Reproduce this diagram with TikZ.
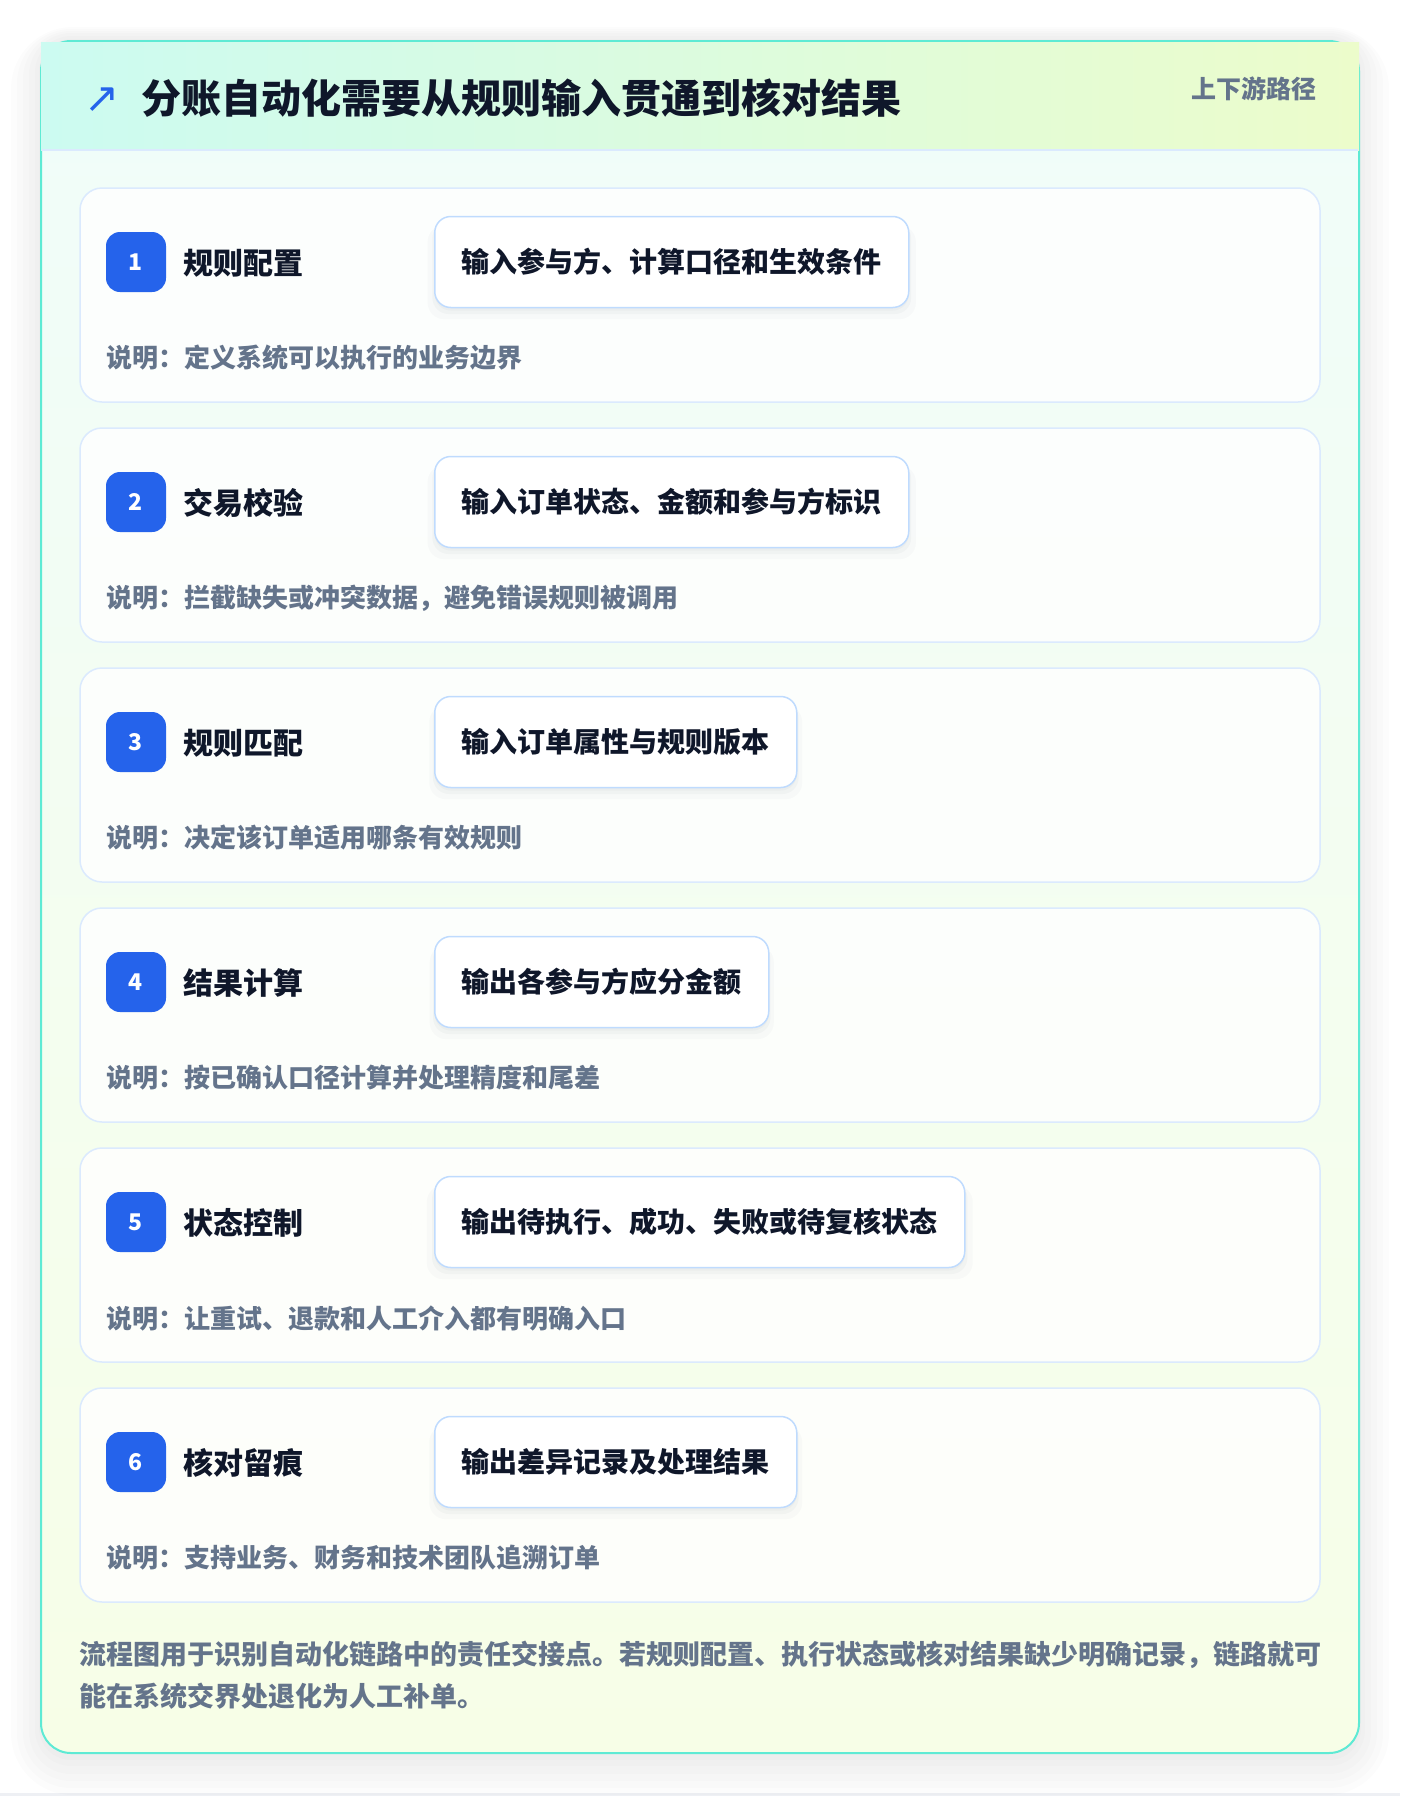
\documentclass[tikz,border=0pt]{standalone}
\usepackage{fontspec}
\setmainfont{Noto Sans CJK SC}
\newfontfamily\symfont{DejaVu Sans}
\usetikzlibrary{shadows}

\definecolor{ink}{HTML}{0F172A}
\definecolor{muted}{HTML}{64748B}
\definecolor{accent}{HTML}{2563EB}
\definecolor{rim}{HTML}{5EEAD4}
\definecolor{headl}{HTML}{CCFBF1}
\definecolor{headr}{HTML}{ECFCCB}
\definecolor{headline}{HTML}{DBEAFE}
\definecolor{bodytop}{HTML}{F0FDFA}
\definecolor{bodybot}{HTML}{F7FEE7}
\definecolor{cardline}{HTML}{DBEAFE}
\definecolor{boxline}{HTML}{BFDBFE}
\definecolor{pagebar}{HTML}{EEF0F4}
\definecolor{haze}{HTML}{334155}

\tikzset{
    card/.style={draw=cardline, line width=1.5pt, fill=white, fill opacity=0.8,
        rounded corners=22pt, minimum width=1240pt, minimum height=214pt, inner sep=0pt},
    num/.style={fill=accent, rounded corners=14pt, minimum size=60pt, inner sep=0pt,
        text=white, font=\fontsize{23}{23}\selectfont\bfseries},
    steptitle/.style={anchor=west, inner sep=0pt, text=ink, font=\fontsize{30}{30}\selectfont\bfseries},
    io/.style={anchor=west, draw=boxline, line width=1.5pt, fill=white, rounded corners=16pt,
        minimum height=91pt, inner xsep=27pt, inner ysep=0pt, text=ink,
        font=\fontsize{28}{28}\selectfont\bfseries,
        general shadow={fill=haze, opacity=0.025, shadow yshift=-10pt, shadow scale=1.03},
        general shadow={fill=haze, opacity=0.03, shadow yshift=-6pt, shadow scale=1.01},
        general shadow={fill=haze, opacity=0.03, shadow yshift=-3pt}},
    note/.style={anchor=west, inner sep=0pt, text=muted, font=\fontsize{26}{26}\selectfont\bfseries},
    halo/.style={fill=black, opacity=0.01}
}

\begin{document}
\begin{tikzpicture}[x=1pt, y=-1pt]
    \useasboundingbox (0, 0) rectangle (1400, 1796);
    \fill[white] (0, 0) rectangle (1400, 1796);
    \fill[pagebar] (0, 1793) rectangle (1400, 1796);

    % soft shadow under the panel
    \fill[halo, rounded corners=62pt] (11, 27) rectangle (1389, 1795);
    \fill[halo, rounded corners=54pt] (17, 29) rectangle (1383, 1788);
    \fill[halo, rounded corners=48pt] (23, 31) rectangle (1377, 1781);
    \fill[halo, rounded corners=42pt] (29, 33) rectangle (1371, 1774);
    \fill[halo, rounded corners=36pt] (35, 36) rectangle (1365, 1766);
    \fill[halo, rounded corners=32pt] (39, 39) rectangle (1361, 1760);

    % outer panel
    \shade[rounded corners=30pt, top color=bodytop, bottom color=bodybot] (41, 41) rectangle (1359, 1753);
    \draw[rim, line width=2pt, rounded corners=30pt] (41, 41) rectangle (1359, 1753);
    \shade[left color=headl, right color=headr] (41, 42) rectangle (1359, 150);
    \draw[headline, line width=2pt] (42, 150) to (1358, 150);

    \node[text=accent, font=\symfont\fontsize{42}{42}\selectfont] (icon) at (102, 100) {↗};
    \node[anchor=west, inner sep=0pt, text=ink, font=\fontsize{40}{40}\selectfont\bfseries] (title) at (141, 98)
        {分账自动化需要从规则输入贯通到核对结果};
    \node[anchor=east, inner sep=0pt, text=muted, font=\fontsize{25}{25}\selectfont\bfseries] (route) at (1317, 89)
        {上下游路径};

    % steps
    \node[card] (card1) at (700, 295) {};
        \node[num] (num1) at (136, 262) {1};
        \node[steptitle] (step1) at (183, 263) {规则配置};
        \node[io] (io1) at (434, 262) {输入参与方、计算口径和生效条件};
        \node[note] (note1) at (106, 358) {说明：定义系统可以执行的业务边界};

    \node[card] (card2) at (700, 535) {};
        \node[num] (num2) at (136, 502) {2};
        \node[steptitle] (step2) at (183, 503) {交易校验};
        \node[io] (io2) at (434, 502) {输入订单状态、金额和参与方标识};
        \node[note] (note2) at (106, 598) {说明：拦截缺失或冲突数据，避免错误规则被调用};

    \node[card] (card3) at (700, 775) {};
        \node[num] (num3) at (136, 742) {3};
        \node[steptitle] (step3) at (183, 743) {规则匹配};
        \node[io] (io3) at (434, 742) {输入订单属性与规则版本};
        \node[note] (note3) at (106, 838) {说明：决定该订单适用哪条有效规则};

    \node[card] (card4) at (700, 1015) {};
        \node[num] (num4) at (136, 982) {4};
        \node[steptitle] (step4) at (183, 983) {结果计算};
        \node[io] (io4) at (434, 982) {输出各参与方应分金额};
        \node[note] (note4) at (106, 1078) {说明：按已确认口径计算并处理精度和尾差};

    \node[card] (card5) at (700, 1255) {};
        \node[num] (num5) at (136, 1222) {5};
        \node[steptitle] (step5) at (183, 1223) {状态控制};
        \node[io] (io5) at (434, 1222) {输出待执行、成功、失败或待复核状态};
        \node[note] (note5) at (106, 1318) {说明：让重试、退款和人工介入都有明确入口};

    \node[card] (card6) at (700, 1495) {};
        \node[num] (num6) at (136, 1462) {6};
        \node[steptitle] (step6) at (183, 1463) {核对留痕};
        \node[io] (io6) at (434, 1462) {输出差异记录及处理结果};
        \node[note] (note6) at (106, 1558) {说明：支持业务、财务和技术团队追溯订单};

    \node[anchor=north west, inner sep=0pt, align=left, text=muted,
        font=\fontsize{27}{42}\selectfont\bfseries] (summary) at (79, 1641)
        {流程图用于识别自动化链路中的责任交接点。若规则配置、执行状态或核对结果缺少明确记录，链路就可\\能在系统交界处退化为人工补单。};
\end{tikzpicture}
\end{document}
